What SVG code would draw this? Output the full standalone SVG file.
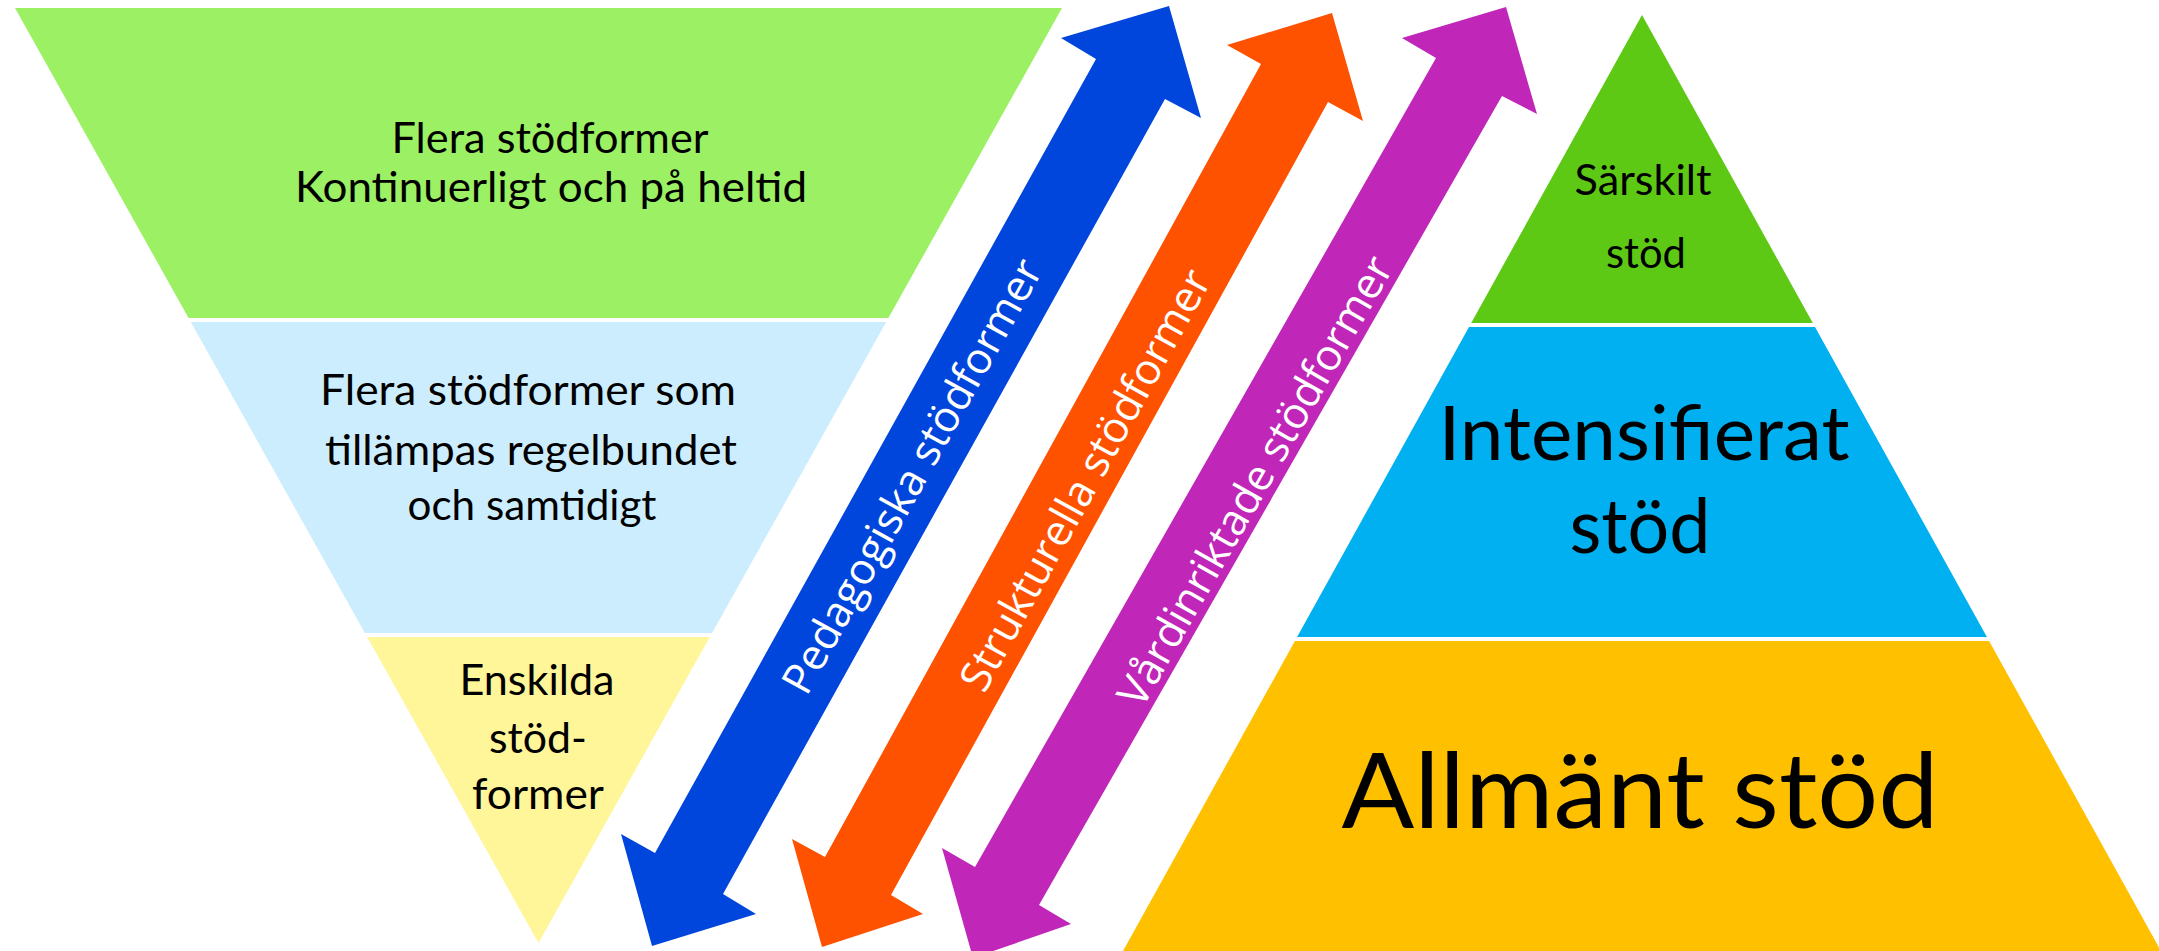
<svg xmlns="http://www.w3.org/2000/svg" width="2159" height="951" viewBox="0 0 2159 951">
  <style>
    .lbl { font-family: Lato, "Liberation Sans", sans-serif; fill: #000000; text-anchor: middle; }
    .s40 { font-size: 42px; }
    .s73 { font-size: 75px; }
    .s101 { font-size: 104px; }
    .at { font-family: "Open Sans", "DejaVu Sans", sans-serif; fill: #ffffff; font-size: 43px; text-anchor: middle; }
  </style>
  <rect x="0" y="0" width="2159" height="951" fill="#ffffff"/>

  <!-- Inverted triangle (left) -->
  <g id="level-continuous">
    <polygon points="15,8 1062,8 888.4,318 188.6,318" fill="#9CF063"/>
    <text class="lbl s40" x="550" y="153" textLength="317" lengthAdjust="spacingAndGlyphs">Flera stödformer</text>
    <text class="lbl s40" x="551" y="202" textLength="512" lengthAdjust="spacingAndGlyphs">Kontinuerligt och på heltid</text>
  </g>
  <g id="level-regular">
    <polygon points="190.8,322 886.2,322 712.1,633 364.9,633" fill="#CCEDFD"/>
    <text class="lbl s40" x="528" y="405" textLength="416" lengthAdjust="spacingAndGlyphs">Flera stödformer som</text>
    <text class="lbl s40" x="531" y="465" textLength="412" lengthAdjust="spacingAndGlyphs">tillämpas regelbundet</text>
    <text class="lbl s40" x="532" y="520" textLength="249" lengthAdjust="spacingAndGlyphs">och samtidigt</text>
  </g>
  <g id="level-individual">
    <polygon points="367.2,637 709.8,637 538.5,943" fill="#FFF599"/>
    <text class="lbl s40" x="537" y="695" textLength="155" lengthAdjust="spacingAndGlyphs">Enskilda</text>
    <text class="lbl s40" x="538" y="753" textLength="98" lengthAdjust="spacingAndGlyphs">stöd-</text>
    <text class="lbl s40" x="538" y="809" textLength="132" lengthAdjust="spacingAndGlyphs">former</text>
  </g>

  <!-- Double-headed arrows -->
  <g id="arrow-pedagogiska">
    <polygon points="1061,38 1169,6 1201,118 1165,99 723,894 756,914 652,946 621,834 655,853 1096,59" fill="#0146DC"/>
    <text class="at" transform="translate(912,476) rotate(-61)" y="15">Pedagogiska stödformer</text>
  </g>
  <g id="arrow-strukturella">
    <polygon points="1227,45 1332,13 1363,121 1328,102 891,895 923,914 822,947 792,839 825,857 1261,64" fill="#FF5200"/>
    <text class="at" transform="translate(1085,480) rotate(-61.2)" y="15">Strukturella stödformer</text>
  </g>
  <g id="arrow-vardinriktade">
    <polygon points="1402,38 1506,7 1537,114 1502,96 1039,905 1071,924 973,958 942,848 975,867 1436,58" fill="#C026B8"/>
    <text class="at" transform="translate(1255,481) rotate(-60.3)" y="15">Vårdinriktade stödformer</text>
  </g>

  <!-- Pyramid (right) -->
  <g id="level-sarskilt">
    <polygon points="1642,15 1812.8,323 1471.2,323" fill="#5DC914"/>
    <text class="lbl s40" x="1643" y="195" textLength="137" lengthAdjust="spacingAndGlyphs">Särskilt</text>
    <text class="lbl s40" x="1646" y="268" textLength="80" lengthAdjust="spacingAndGlyphs">stöd</text>
  </g>
  <g id="level-intensifierat">
    <polygon points="1469,327 1815,327 1986.9,637 1297.1,637" fill="#00B0F0"/>
    <text class="lbl s73" x="1644" y="460" textLength="411" lengthAdjust="spacingAndGlyphs">Intensifierat</text>
    <text class="lbl s73" x="1640" y="553" textLength="141" lengthAdjust="spacingAndGlyphs">stöd</text>
  </g>
  <g id="level-allmant">
    <polygon points="1294.9,641 1989.1,641 2161,951 1123,951" fill="#FFC000"/>
    <text class="lbl s101" x="1640" y="828" textLength="597" lengthAdjust="spacingAndGlyphs">Allmänt stöd</text>
  </g>
</svg>
